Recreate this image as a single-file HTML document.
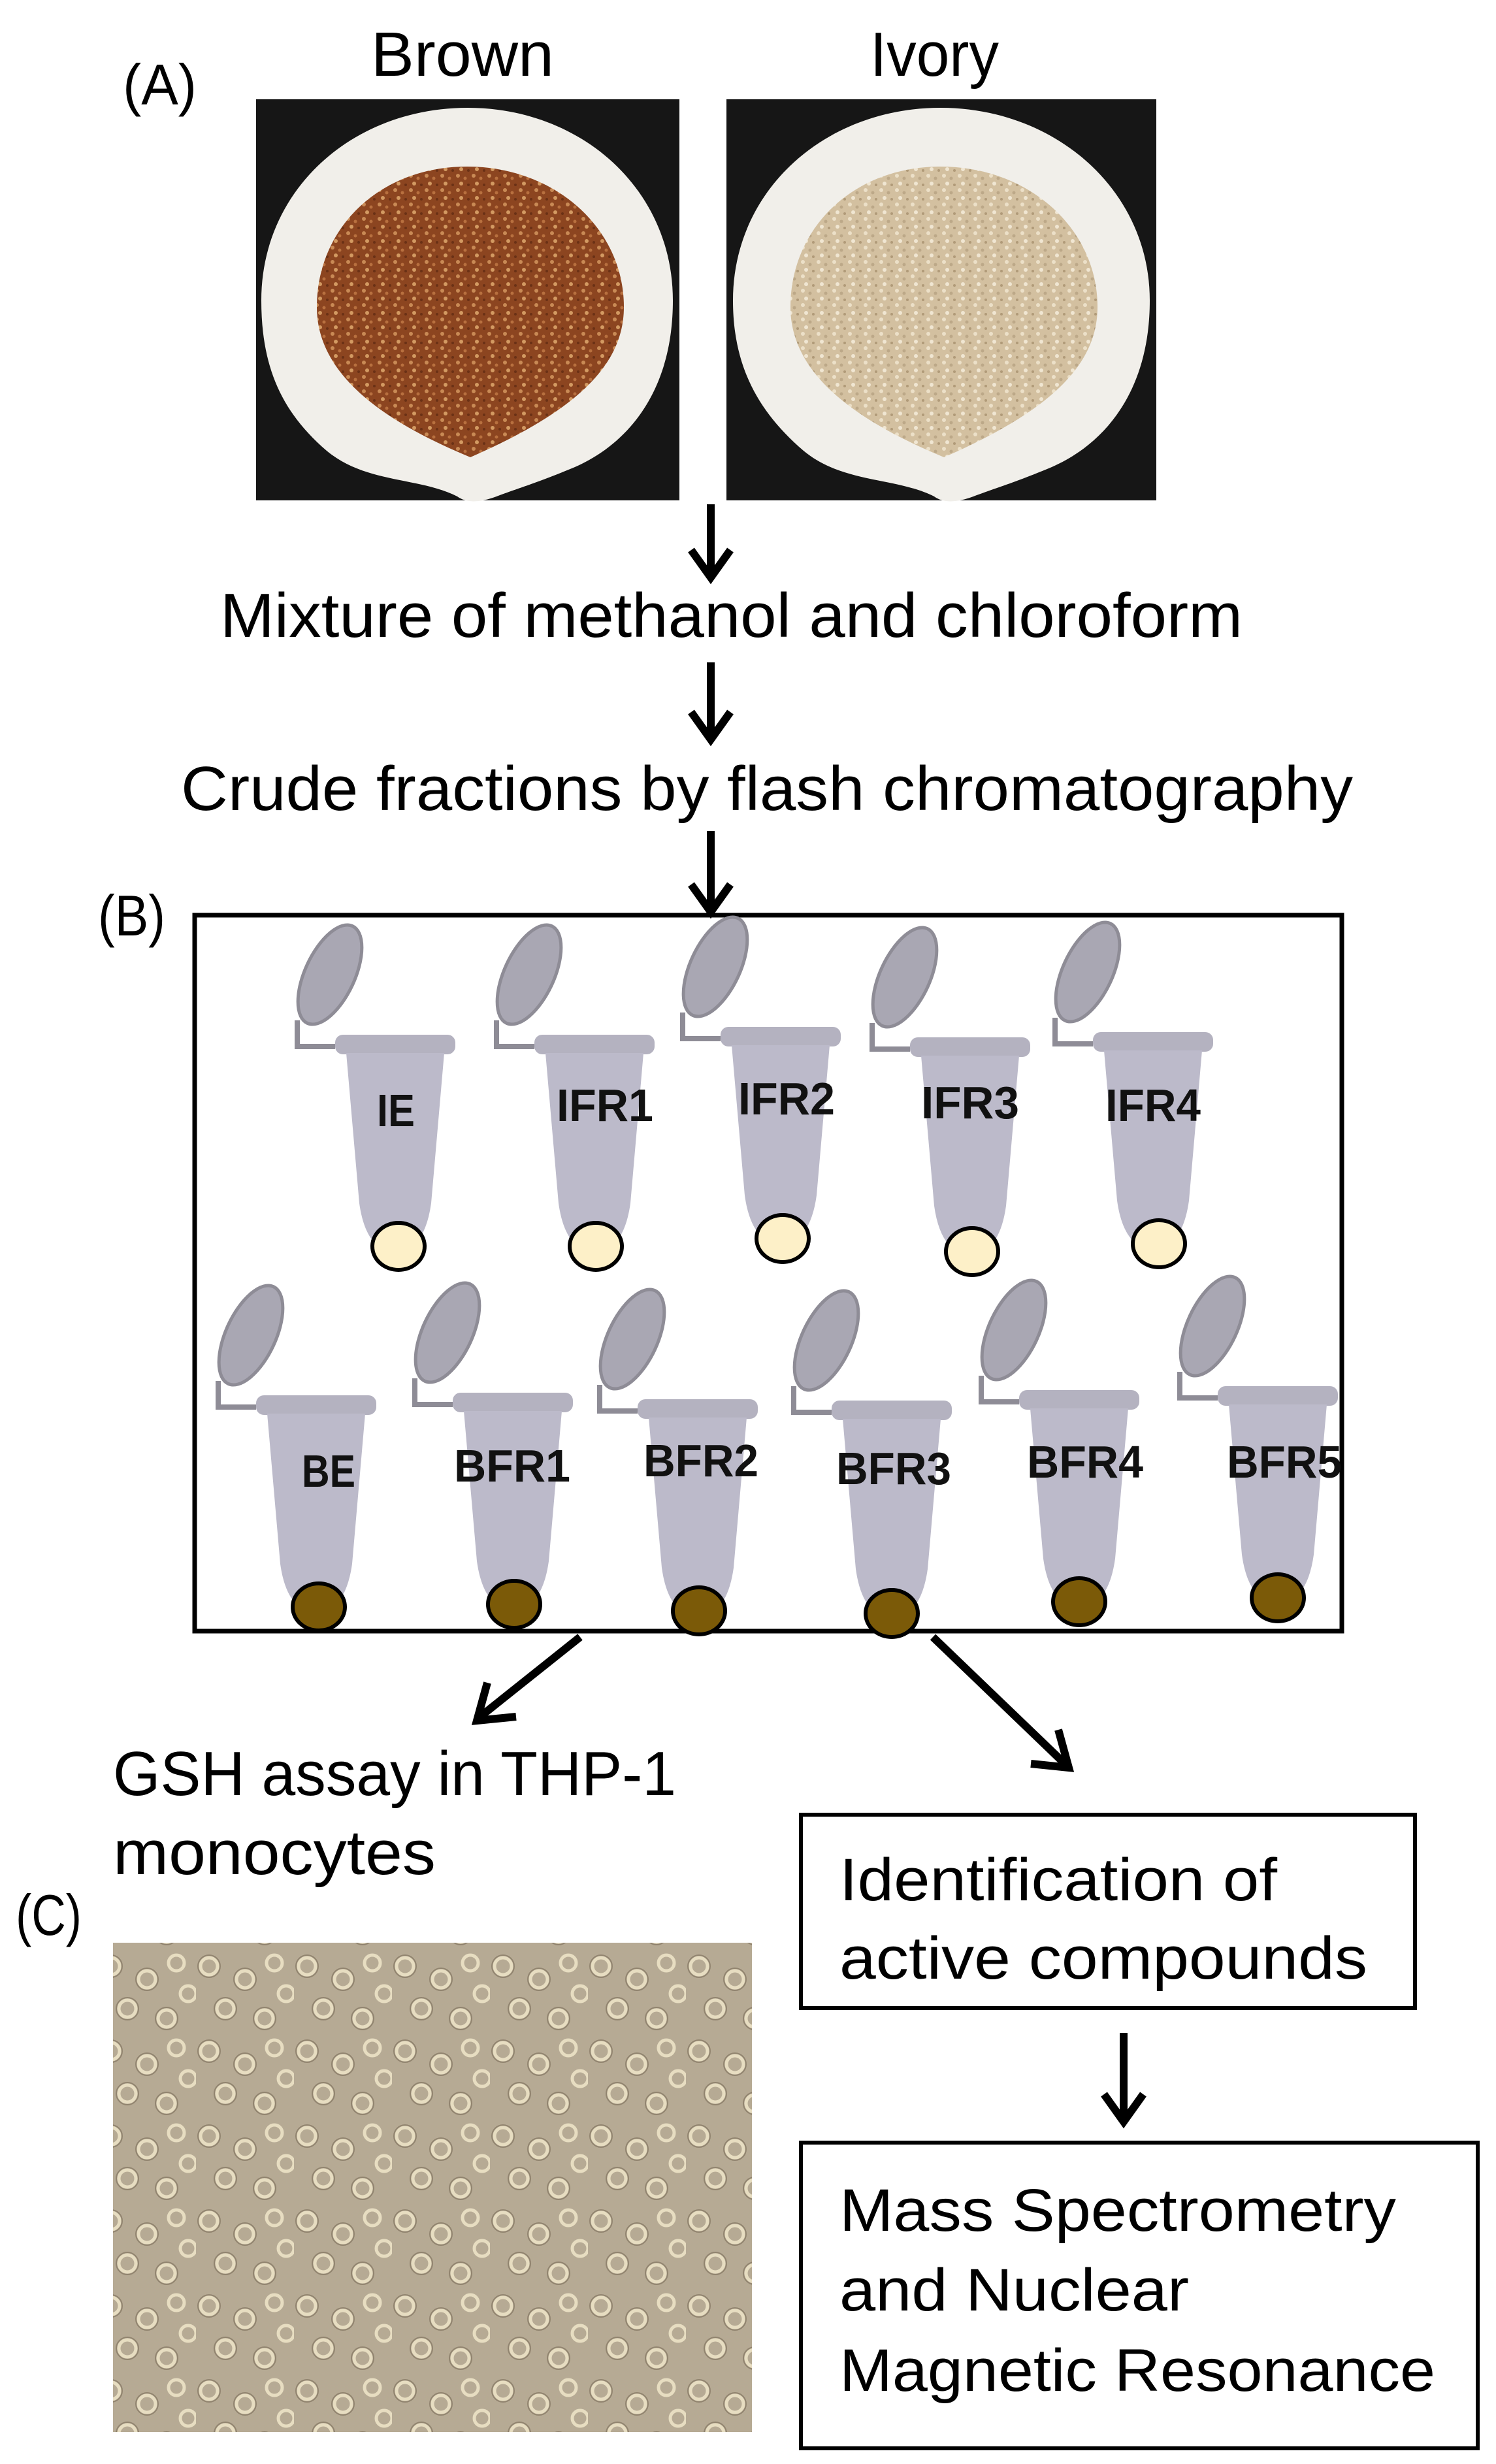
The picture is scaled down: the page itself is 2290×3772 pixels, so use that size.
<!DOCTYPE html>
<html><head><meta charset="utf-8"><style>html,body{margin:0;padding:0;background:#fff}svg{display:block}</style></head>
<body>
<svg width="2290" height="3772" viewBox="0 0 2290 3772" xmlns="http://www.w3.org/2000/svg" font-family="Liberation Sans, Arial, sans-serif">
<defs>
<pattern id="speckB" width="24" height="22" patternUnits="userSpaceOnUse">
<rect width="24" height="22" fill="#8c4520"/>
<circle cx="5" cy="5" r="3" fill="#c98a55"/><circle cx="16" cy="9" r="2.5" fill="#b8703f"/><circle cx="10" cy="17" r="3" fill="#d39a62"/><circle cx="21" cy="19" r="2" fill="#6a3015"/>
</pattern>
<pattern id="speckI" width="24" height="22" patternUnits="userSpaceOnUse">
<rect width="24" height="22" fill="#d3c0a0"/>
<circle cx="5" cy="5" r="3" fill="#ece0c8"/><circle cx="16" cy="9" r="2.5" fill="#bca888"/><circle cx="10" cy="17" r="3" fill="#f0e6d2"/><circle cx="21" cy="19" r="2" fill="#b09a78"/>
</pattern>
<pattern id="cells" width="150" height="130" patternUnits="userSpaceOnUse">
<g fill="none" stroke="#ece3c6" stroke-width="5">
<circle cx="20" cy="20" r="13"/><circle cx="75" cy="40" r="13"/><circle cx="120" cy="15" r="12"/>
<circle cx="45" cy="85" r="13"/><circle cx="105" cy="100" r="13"/><circle cx="138" cy="62" r="12"/>
</g>
<g fill="none" stroke="#8d806b" stroke-width="2">
<circle cx="20" cy="20" r="17"/><circle cx="75" cy="40" r="17"/><circle cx="45" cy="85" r="17"/><circle cx="105" cy="100" r="17"/>
</g>
</pattern>
<g id="tube">
<path d="M-150,-30 L-150,10 L-92,10" fill="none" stroke="#8e8c96" stroke-width="8"/>
<ellipse cx="-100" cy="-100" rx="38" ry="82" transform="rotate(25 -100 -100)" fill="#a9a7b3" stroke="#8e8c96" stroke-width="5"/>
<rect x="-92" y="-8" width="184" height="30" rx="12" fill="#b4b2c0"/>
<path d="M-75,20 L75,20 L55,250 Q45,322 0,326 Q-45,322 -55,250 Z" fill="#bcbaca"/>
</g>
</defs>

<!-- (A) -->
<text x="188" y="160" font-size="88" textLength="113" lengthAdjust="spacingAndGlyphs">(A)</text>
<text x="568" y="116" font-size="96" textLength="280" lengthAdjust="spacingAndGlyphs">Brown</text>
<text x="1332" y="116" font-size="96" textLength="197" lengthAdjust="spacingAndGlyphs">Ivory</text>

<!-- brown photo -->
<rect x="392" y="152" width="648" height="614" fill="#161616"/>
<path d="M716,165 C890,165 1030,290 1030,460 C1030,600 960,680 880,715 C820,740 800,745 760,760 Q720,775 700,760 C640,730 560,740 500,690 C430,630 400,560 400,460 C400,290 540,165 716,165 Z" fill="#f1efea"/>
<path d="M715,255 C850,255 955,350 955,470 C955,560 880,630 720,700 C600,650 485,580 485,470 C485,350 580,255 715,255 Z" fill="url(#speckB)"/>
<!-- ivory photo -->
<rect x="1112" y="152" width="658" height="614" fill="#161616"/>
<path d="M1440,165 C1614,165 1760,290 1760,460 C1760,600 1690,680 1610,715 C1550,740 1530,745 1490,760 Q1450,775 1430,760 C1370,730 1290,740 1230,690 C1160,630 1122,560 1122,460 C1122,290 1264,165 1440,165 Z" fill="#f1efea"/>
<path d="M1440,255 C1575,255 1680,350 1680,470 C1680,560 1605,630 1445,700 C1325,650 1210,580 1210,470 C1210,350 1305,255 1440,255 Z" fill="url(#speckI)"/>

<!-- arrows down -->
<g stroke="#000" stroke-width="12" fill="none">
<line x1="1088" y1="772" x2="1088" y2="880"/><polyline points="1058,842 1088,884 1118,842"/>
<line x1="1088" y1="1014" x2="1088" y2="1128"/><polyline points="1058,1090 1088,1132 1118,1090"/>
<line x1="1088" y1="1272" x2="1088" y2="1392"/><polyline points="1058,1354 1088,1396 1118,1354"/>
</g>
<text x="337" y="975" font-size="96" textLength="1565" lengthAdjust="spacingAndGlyphs">Mixture of methanol and chloroform</text>
<text x="277" y="1240" font-size="96" textLength="1794" lengthAdjust="spacingAndGlyphs">Crude fractions by flash chromatography</text>

<!-- (B) -->
<text x="150" y="1432" font-size="88" textLength="103" lengthAdjust="spacingAndGlyphs">(B)</text>
<rect x="298" y="1401" width="1756" height="1096" fill="none" stroke="#000" stroke-width="7"/>

<g>
<use href="#tube" x="605" y="1592"/><use href="#tube" x="910" y="1592"/><use href="#tube" x="1195" y="1580"/><use href="#tube" x="1485" y="1596"/><use href="#tube" x="1765" y="1588"/>
<use href="#tube" x="484" y="2144"/><use href="#tube" x="785" y="2140"/><use href="#tube" x="1068" y="2150"/><use href="#tube" x="1365" y="2152"/><use href="#tube" x="1652" y="2136"/><use href="#tube" x="1956" y="2130"/>
</g>
<g fill="#fdf0c8" stroke="#000" stroke-width="6">
<ellipse cx="610" cy="1908" rx="40" ry="36"/><ellipse cx="912" cy="1908" rx="40" ry="36"/><ellipse cx="1198" cy="1896" rx="40" ry="36"/><ellipse cx="1488" cy="1916" rx="40" ry="36"/><ellipse cx="1774" cy="1904" rx="40" ry="36"/>
</g>
<g fill="#7b5a08" stroke="#000" stroke-width="6">
<ellipse cx="488" cy="2460" rx="40" ry="36"/><ellipse cx="787" cy="2456" rx="40" ry="36"/><ellipse cx="1070" cy="2466" rx="40" ry="36"/><ellipse cx="1365" cy="2470" rx="40" ry="36"/><ellipse cx="1652" cy="2452" rx="40" ry="36"/><ellipse cx="1956" cy="2446" rx="40" ry="36"/>
</g>
<g font-size="70" font-weight="bold" fill="#111">
<text x="577" y="1724" textLength="58" lengthAdjust="spacingAndGlyphs">IE</text>
<text x="852" y="1716" textLength="148" lengthAdjust="spacingAndGlyphs">IFR1</text>
<text x="1130" y="1706" textLength="148" lengthAdjust="spacingAndGlyphs">IFR2</text>
<text x="1410" y="1712" textLength="150" lengthAdjust="spacingAndGlyphs">IFR3</text>
<text x="1692" y="1716" textLength="146" lengthAdjust="spacingAndGlyphs">IFR4</text>
<text x="462" y="2276" textLength="82" lengthAdjust="spacingAndGlyphs">BE</text>
<text x="695" y="2268" textLength="178" lengthAdjust="spacingAndGlyphs">BFR1</text>
<text x="985" y="2260" textLength="176" lengthAdjust="spacingAndGlyphs">BFR2</text>
<text x="1280" y="2272" textLength="176" lengthAdjust="spacingAndGlyphs">BFR3</text>
<text x="1572" y="2262" textLength="178" lengthAdjust="spacingAndGlyphs">BFR4</text>
<text x="1878" y="2262" textLength="176" lengthAdjust="spacingAndGlyphs">BFR5</text>
</g>

<!-- diagonal arrows -->
<g stroke="#000" stroke-width="12" fill="none">
<line x1="888" y1="2506" x2="735" y2="2628"/><polyline points="790,2628 730,2634 746,2576"/>
<line x1="1428" y1="2506" x2="1630" y2="2700"/><polyline points="1620,2648 1636,2706 1578,2700"/>
<line x1="1720" y1="3112" x2="1720" y2="3244"/><polyline points="1690,3206 1720,3248 1750,3206"/>
</g>

<text x="173" y="2748" font-size="96" textLength="862" lengthAdjust="spacingAndGlyphs">GSH assay in THP-1</text>
<text x="173" y="2869" font-size="96" textLength="494" lengthAdjust="spacingAndGlyphs">monocytes</text>

<!-- (C) -->
<text x="24" y="2962" font-size="88" textLength="101" lengthAdjust="spacingAndGlyphs">(C)</text>
<rect x="173" y="2974" width="978" height="749" fill="#b6aa94"/>
<rect x="173" y="2974" width="978" height="749" fill="url(#cells)" opacity="0.9"/>

<!-- boxes -->
<rect x="1226" y="2778" width="940" height="296" fill="none" stroke="#000" stroke-width="6"/>
<text x="1285" y="2909" font-size="92" textLength="670" lengthAdjust="spacingAndGlyphs">Identification of</text>
<text x="1285" y="3029" font-size="92" textLength="808" lengthAdjust="spacingAndGlyphs">active compounds</text>
<rect x="1226" y="3280" width="1036" height="468" fill="none" stroke="#000" stroke-width="6"/>
<text x="1285" y="3415" font-size="92" textLength="852" lengthAdjust="spacingAndGlyphs">Mass Spectrometry</text>
<text x="1285" y="3537" font-size="92" textLength="535" lengthAdjust="spacingAndGlyphs">and Nuclear</text>
<text x="1285" y="3660" font-size="92" textLength="912" lengthAdjust="spacingAndGlyphs">Magnetic Resonance</text>
</svg>
</body></html>
